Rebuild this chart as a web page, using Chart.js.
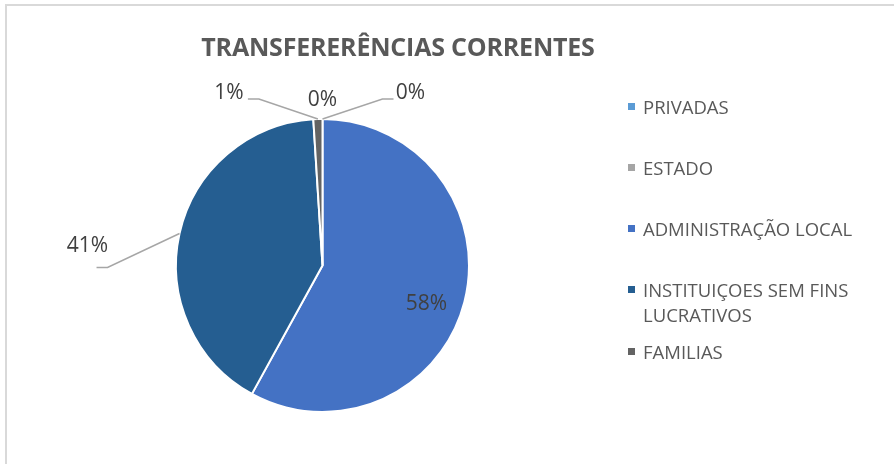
<!DOCTYPE html>
<html>
<head>
<meta charset="utf-8">
<script src="https://cdn.jsdelivr.net/npm/chart.js@4.4.0/dist/chart.umd.min.js"></script>
<style>
  body { margin: 0; background: #fff; }
  #wrap { position: relative; width: 894px; height: 464px; overflow: hidden; font-family: "Open Sans", sans-serif; }
  #frame { position: absolute; left: 5px; top: 4px; width: 900px; height: 470px; border-left: 2px solid #d9d9d9; border-top: 2px solid #d9d9d9; }
  #grafico { position: absolute; left: 0; top: 0; }
  #titulo { position: absolute; left: 0; width: 796px; top: 29px; text-align: center; font-size: 25px; font-weight: bold; color: #595959; letter-spacing: -0.2px; }
  #legenda { position: absolute; left: 628px; top: 0; color: #595959; font-size: 18.5px; }
  .item { position: absolute; left: 0; width: 260px; line-height: 25px; white-space: nowrap; }
  .item span.box { position: absolute; left: 0; top: 9px; width: 7px; height: 7px; }
  .item span.txt { position: absolute; left: 15px; top: 0; }
</style>
</head>
<body>
<div id="wrap">
  <div id="frame"></div>
  <canvas id="grafico" width="894" height="464"></canvas>
  <div id="titulo">TRANSFERERÊNCIAS CORRENTES</div>
  <div id="legenda"></div>
</div>
<script>
// dados do gráfico
var categorias = ['PRIVADAS', 'ESTADO', 'ADMINISTRAÇÃO LOCAL', 'INSTITUIÇOES SEM FINS LUCRATIVOS', 'FAMILIAS'];
var legendaLinhas = [['PRIVADAS'], ['ESTADO'], ['ADMINISTRAÇÃO LOCAL'], ['INSTITUIÇOES SEM FINS', 'LUCRATIVOS'], ['FAMILIAS']];
var valores = [0, 0, 58, 41, 1];
var cores = ['#5b9bd5', '#a5a5a5', '#4472c4', '#255e91', '#636363'];

// posição dos rótulos em relação ao ponto médio do arco (texto e linha de chamada)
var rotulos = [
    { tx: 88, ty: -26, linha: [[60, -20], [71, -20]] },
    { tx: 0, ty: -19, linha: null },
    { tx: -38, ty: 2, linha: null },
    { tx: -92, ty: 12, linha: [[-72, 34], [-83, 34]] },
    { tx: -89, ty: -26, linha: [[-59, -20], [-70, -20]] }
];
var legendaTopo = [94, 155, 216, 277, 339];

// legenda em HTML
var leg = document.getElementById('legenda');
categorias.forEach(function(c, i) {
    var d = document.createElement('div');
    d.className = 'item';
    d.style.top = legendaTopo[i] + 'px';
    d.innerHTML = '<span class="box" style="background:' + cores[i] + '"></span><span class="txt">' + legendaLinhas[i].join('<br>') + '</span>';
    leg.appendChild(d);
});

var pluginRotulos = {
    id: 'rotulos',
    afterDatasetsDraw: function(chart) {
        var ctx = chart.ctx;
        var meta = chart.getDatasetMeta(0);
        var total = valores.reduce(function(a, b) { return a + b; }, 0);
        ctx.save();
        ctx.font = '21px "Open Sans", sans-serif';
        ctx.fillStyle = '#404040';
        ctx.textAlign = 'center';
        ctx.textBaseline = 'middle';
        meta.data.forEach(function(arc, i) {
            var p = arc.getProps(['x', 'y', 'startAngle', 'endAngle', 'outerRadius'], true);
            var mid = (p.startAngle + p.endAngle) / 2;
            var ax = p.x + Math.cos(mid) * p.outerRadius;
            var ay = p.y + Math.sin(mid) * p.outerRadius;
            var r = rotulos[i];
            if (r.linha) {
                ctx.strokeStyle = '#a6a6a6';
                ctx.lineWidth = 1.5;
                ctx.beginPath();
                ctx.moveTo(ax, ay);
                r.linha.forEach(function(pt) { ctx.lineTo(ax + pt[0], ay + pt[1]); });
                ctx.stroke();
            }
            var pct = Math.round(valores[i] / total * 100) + '%';
            ctx.fillText(pct, ax + r.tx, ay + r.ty);
        });
        ctx.restore();
    }
};

var ctx1 = document.getElementById('grafico').getContext('2d');
new Chart(ctx1, {
    type: 'pie',
    data: {
        labels: categorias,
        datasets: [{
            data: valores,
            backgroundColor: cores,
            borderColor: '#ffffff',
            borderWidth: 2
        }]
    },
    options: {
        responsive: false,
        animation: false,
        layout: { padding: { left: 175, right: 424, top: 118, bottom: 51 } },
        plugins: {
            legend: { display: false },
            title: { display: false },
            tooltip: { enabled: false }
        }
    },
    plugins: [pluginRotulos]
});
</script>
</body>
</html>
